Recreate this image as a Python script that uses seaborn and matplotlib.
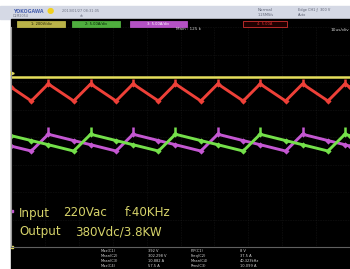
import numpy as np
import pandas as pd
import seaborn as sns
import matplotlib
matplotlib.use("Agg")
import matplotlib.pyplot as plt
from matplotlib.patches import Rectangle

# ---------------- data (time in us, amplitude in divisions) ----------------
t_us = [0, 6, 11, 18.5, 23.5, 31, 36, 43.5, 48.5, 56, 61, 68.5, 73.5, 81, 86, 93.5, 98.5, 100]
ch1_yellow = [6.18] * len(t_us)
ch4_red = [5.81, 5.31, 5.93, 5.31, 5.93, 5.31, 5.93, 5.31, 5.93, 5.31, 5.93, 5.31, 5.93,
           5.31, 5.93, 5.31, 5.93, 5.81]
ch3_magenta = [3.67, 3.49, 4.10, 3.87, 3.72, 3.49, 4.10, 3.87, 3.72, 3.49, 4.10, 3.87, 3.72,
               3.49, 4.10, 3.87, 3.72, 3.67]
ch2_green = [4.05, 3.87, 3.72, 3.49, 4.10, 3.87, 3.72, 3.49, 4.10, 3.87, 3.72, 3.49, 4.10,
             3.87, 3.72, 3.49, 4.10, 4.05]

# switching spikes
red_spike_t = [11, 23.5, 36, 48.5, 61, 73.5, 86, 98.5]
red_spike_base = [5.93] * 8
red_spike_top = [6.11] * 8
mag_spike_t = [11, 36, 61, 86]
mag_spike_base = [4.10] * 4
mag_spike_top = [4.36] * 4
grn_spike_t = [23.5, 48.5, 73.5, 98.5]
grn_spike_base = [4.10] * 4
grn_spike_top = [4.36] * 4

annot_line1 = ["Input", "220Vac", "f:40KHz"]
annot_line2 = ["Output", "380Vdc/3.8KW"]

COL = {"CH1": "#e6df5c", "CH2": "#74e04a", "CH3": "#c457d2", "CH4": "#ee4038"}

df = pd.concat([
    pd.DataFrame({"t": t_us, "v": ch1_yellow, "ch": "CH1"}),
    pd.DataFrame({"t": t_us, "v": ch4_red, "ch": "CH4"}),
    pd.DataFrame({"t": t_us, "v": ch3_magenta, "ch": "CH3"}),
    pd.DataFrame({"t": t_us, "v": ch2_green, "ch": "CH2"}),
], ignore_index=True)

sns.set_theme(style="dark")
plt.rcParams["font.family"] = ["DejaVu Sans"]

W, H = 350, 269
def fx(px): return px / W
def fy(py): return 1 - py / H

fig = plt.figure(figsize=(3.5, 2.69), dpi=100, facecolor="white")

# header bar
fig.add_artist(Rectangle((0, fy(19)), 1, 13 / H, transform=fig.transFigure,
                         color="#d5d9e5", zorder=0))
fig.text(fx(13), fy(11.5), "YOKOGAWA", fontsize=3.4, color="#4a62b0", ha="left", va="center",
         weight="bold", zorder=2)
fig.text(fx(13), fy(16), "DLM2054", fontsize=2.3, color="#6a6f80", ha="left", va="center", zorder=2)
fig.text(fx(50), fy(10.5), "\u25cf", fontsize=6, color="#f0d020", ha="center", va="center", zorder=2)
fig.text(fx(62), fy(10.5), "2013/01/27 08:31:05", fontsize=2.5, color="#6a6f80", va="center")
fig.text(fx(80), fy(16), "ch", fontsize=2.3, color="#6a6f80", va="center")
fig.text(fx(258), fy(10), "Normal", fontsize=3, color="#5a5f70", va="center")
fig.text(fx(258), fy(15.5), "1.25MS/s", fontsize=2.5, color="#5a5f70", va="center")
fig.text(fx(298), fy(10), "Edge CH1 \u0192  300 V", fontsize=2.5, color="#5a5f70", va="center")
fig.text(fx(298), fy(15.5), "Auto", fontsize=2.5, color="#5a5f70", va="center")

# black screen
fig.add_artist(Rectangle((fx(11), 0), 1 - fx(11), fy(19), transform=fig.transFigure,
                         color="black", zorder=0))

# channel label boxes
boxes = [(17, 65, "#b9b248", "1: 200V/div", "#1a1a00", None),
         (72, 120, "#4fae3e", "2: 5.00A/div", "#001a00", None),
         (130, 187, "#b452c4", "3: 5.00A/div", "#ffffff", None),
         (243, 287, "#200000", "4: 5.00A", "#e03030", "#d03030")]
for x0, x1, fc, label, tc, ec in boxes:
    fig.add_artist(Rectangle((fx(x0), fy(27)), fx(x1 - x0), 6 / H, transform=fig.transFigure,
                             facecolor=fc, edgecolor=ec if ec else fc, lw=0.6, zorder=2))
    fig.text(fx((x0 + x1) / 2), fy(24), label, fontsize=2.6, color=tc, ha="center",
             va="center", zorder=3)
fig.text(fx(176), fy(29.5), "Main : 125 k", fontsize=3, color="#cfcfcf", va="center", zorder=3)
fig.text(fx(349), fy(30), "10us/div", fontsize=3.2, color="#cfcfcf", ha="right", va="center", zorder=3)

# waveform axes
ax = fig.add_axes([fx(11), fy(247), 1 - fx(11), (247 - 27) / H])
ax.set_facecolor("black")
ax.set_xlim(0, 100)
ax.set_ylim(0, 8)
ax.set_xticks(np.arange(0, 101, 10))
ax.set_yticks(np.arange(0, 9, 1))
ax.grid(True, color="#262626", lw=0.4, ls=(0, (1, 2)))
ax.tick_params(length=0, labelbottom=False, labelleft=False)
for s in ax.spines.values():
    s.set_visible(False)
ax.spines["left"].set_visible(True)
ax.spines["left"].set_color("#9a9a9a")
ax.spines["left"].set_linewidth(0.8)
ax.spines["bottom"].set_visible(True)
ax.spines["bottom"].set_color("#606060")
ax.spines["bottom"].set_linewidth(0.8)

for ch, lw in [("CH1", 1.8), ("CH4", 2.1), ("CH3", 2.1), ("CH2", 2.1)]:
    sub = df[df["ch"] == ch]
    sns.lineplot(data=sub, x="t", y="v", color=COL[ch], lw=lw, ax=ax, sort=False,
                 estimator=None, legend=False)
    if ch != "CH1":
        sns.scatterplot(data=sub, x="t", y="v", color=COL[ch], s=10, marker="D",
                        linewidth=0, ax=ax, legend=False)

ax.vlines(red_spike_t, red_spike_base, red_spike_top, color=COL["CH4"], lw=1.8)
ax.vlines(mag_spike_t, mag_spike_base, mag_spike_top, color=COL["CH3"], lw=1.8)
ax.vlines(grn_spike_t, grn_spike_base, grn_spike_top, color=COL["CH2"], lw=1.8)

# channel ground markers
ax.plot([0.3], [6.33], marker=">", ms=2.5, color=COL["CH1"], clip_on=False)
ax.plot([0.3], [1.31], marker="s", ms=1.8, color=COL["CH3"], clip_on=False)
ax.plot([0.3], [0.0], marker="s", ms=1.8, color=COL["CH1"], clip_on=False)
ax.set_xlabel("")
ax.set_ylabel("")

# annotation text
tc = "#d6d36a"
fig.text(fx(19), fy(213), annot_line1[0], fontsize=8.6, color=tc, va="center")
fig.text(fx(63), fy(213), annot_line1[1], fontsize=8.6, color=tc, va="center")
fig.text(fx(125), fy(213), annot_line1[2], fontsize=8.6, color=tc, va="center")
fig.text(fx(19), fy(232), annot_line2[0], fontsize=8.6, color=tc, va="center")
fig.text(fx(75), fy(232), annot_line2[1], fontsize=8.6, color=tc, va="center")

# measurement area
meas_l1 = ["Max(C1)", "Mean(C2)", "Mean(C3)", "Max(C4)"]
meas_v1 = ["392 V", "302.298 V", "10.882 A", "57.5 A"]
meas_l2 = ["P-P(C1)", "Freq(C2)", "Mean(C4)", "Rms(C3)"]
meas_v2 = ["8 V", "37.5 A", "40.323kHz", "10.099 A"]
for i in range(4):
    y = 250.5 + i * 5.3
    fig.text(fx(101), fy(y), meas_l1[i], fontsize=2.6, color="#d8d8d8", va="center")
    fig.text(fx(148), fy(y), meas_v1[i], fontsize=2.6, color="#d8d8d8", va="center")
    fig.text(fx(191), fy(y), meas_l2[i], fontsize=2.6, color="#d8d8d8", va="center")
    fig.text(fx(240), fy(y), meas_v2[i], fontsize=2.6, color="#d8d8d8", va="center")

fig.savefig("out.png", dpi=100, facecolor="white")
